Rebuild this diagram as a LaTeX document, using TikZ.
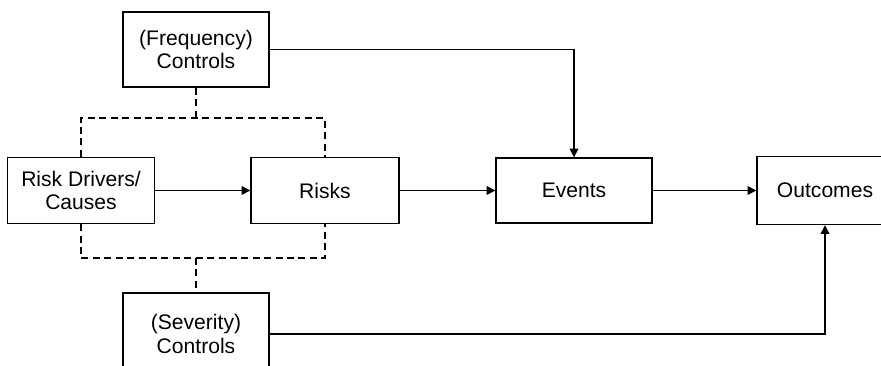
\documentclass[tikz,border=0pt]{standalone}
\usepackage{fontspec}
\setmainfont{Liberation Sans}
\usepackage{tikz}
\usetikzlibrary{arrows.meta}

\begin{document}
\begin{tikzpicture}[x=0.02cm, y=-0.02cm,
        box/.style={draw, line width=0.8pt, align=center, inner sep=0pt,
            font=\fontsize{12}{13.5}\selectfont},
        link/.style={line width=0.8pt, -{Triangle[length=5pt, width=5pt]}},
        ctrl/.style={line width=0.8pt, dash pattern=on 4pt off 2.5pt}]
        \clip (0, 0) rectangle (881, 365);
        % Nodes
        \node[box, minimum width=146*0.02cm, minimum height=75*0.02cm] (freq) at (196, 49.5) {(Frequency)\\Controls};
        \node[box, minimum width=147*0.02cm, minimum height=66*0.02cm] (drivers) at (81, 190.5) {Risk Drivers/\\Causes};
        \node[box, minimum width=148*0.02cm, minimum height=66*0.02cm] (risks) at (325, 190.5) {Risks};
        \node[box, minimum width=156*0.02cm, minimum height=65*0.02cm] (events) at (574, 190.5) {Events};
        \node[box, minimum width=136*0.02cm, minimum height=68*0.02cm] (outcomes) at (825, 190.5) {Outcomes};
        \node[box, minimum width=146*0.02cm, minimum height=82*0.02cm] (sev) at (196, 334) {(Severity)\\Controls};
        \coordinate (fjoin) at (196, 118);
        \coordinate (sjoin) at (196, 258);
        % Edges
        \draw[ctrl] (freq.south) -- (fjoin);
        \draw[ctrl] (drivers.north) |- (fjoin) -| (risks.north);
        \draw[ctrl] (drivers.south) |- (sjoin) -| (risks.south);
        \draw[ctrl] (sjoin) -- (sev.north);
        \draw[link] (drivers) -- (risks);
        \draw[link] (risks) -- (events);
        \draw[link] (events) -- (outcomes);
        \draw[link] (freq) -| (events);
        \draw[link] (sev) -| (outcomes);
    \end{tikzpicture}
\end{document}
